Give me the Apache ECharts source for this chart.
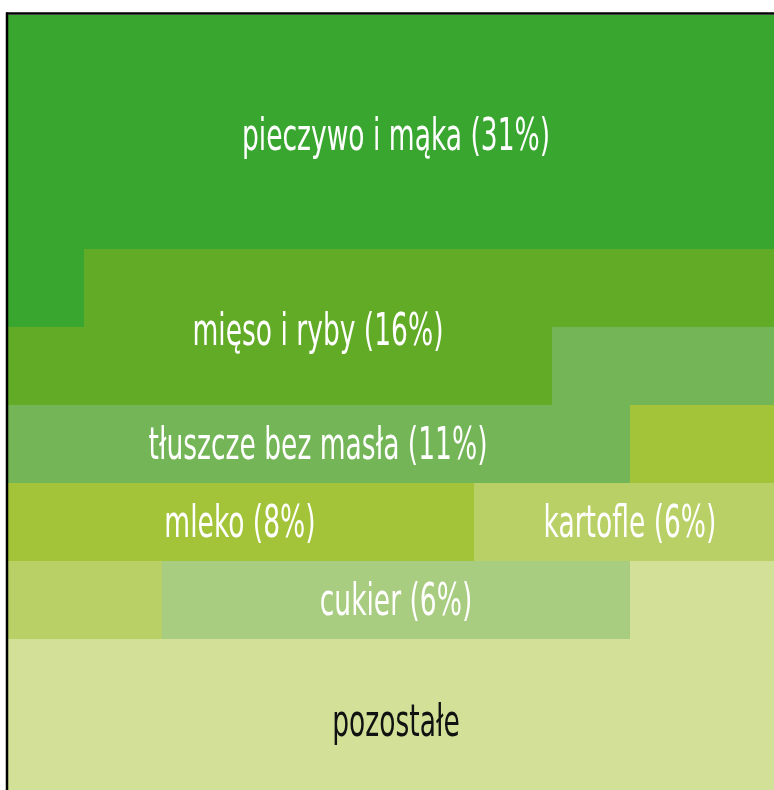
<!DOCTYPE html>
<html>
<head>
<meta charset="utf-8">
<script src="https://cdn.jsdelivr.net/npm/echarts@6/dist/echarts.min.js"></script>
<style>
  html, body { margin: 0; padding: 0; background: #fff; overflow: hidden; }
  #main { width: 800px; height: 810px; }
</style>
</head>
<body>
<div id="main"></div>
<script>
// struktura wydatków - dane (procent, 100 kratek w siatce 10x10)
const names = ['pieczywo i mąka', 'mięso i ryby', 'tłuszcze bez masła', 'mleko', 'kartofle', 'cukier', 'pozostałe'];
const values = [31, 16, 11, 8, 6, 6, 22];
const showPct = [true, true, true, true, true, true, false];
const colors = ['#38a62f', '#62ab27', '#73b557', '#a3c439', '#b8d066', '#a8cc80', '#d2e098'];
const textColors = ['#fff', '#fff', '#fff', '#fff', '#fff', '#fff', '#111'];

// miejsce etykiety w jednostkach siatki (kolumna, wiersz)
const labelAt = [[5, 1.58], [4, 4.08], [4, 5.55], [3, 6.55], [8, 6.55], [5, 7.55], [5, 9.1]];

const COLS = 10;

// kratki: [kolumna, wiersz, grupa]
var cells = [];
var k = 0;
values.forEach((v, g) => {
    for (let i = 0; i < v; i++) {
        cells.push([k % COLS, Math.floor(k / COLS), g]);
        k++;
    }
});

var labelData = names.map((n, g) => [labelAt[g][0], labelAt[g][1], g]);

var chart = echarts.init(document.getElementById('main'));
var option = {
    animation: false,
    grid: { left: 6, top: 15, width: 780, height: 780 },
    xAxis: { type: 'value', min: 0, max: 10, show: false },
    yAxis: { type: 'value', min: 0, max: 10, inverse: true, show: false },
    series: [
        {
            type: 'custom',
            data: cells,
            renderItem: function (params, api) {
                var p0 = api.coord([api.value(0), api.value(1)]);
                var p1 = api.coord([api.value(0) + 1, api.value(1) + 1]);
                var x0 = Math.round(p0[0]), y0 = Math.round(p0[1]);
                // lekko na zakładkę, zeby nie bylo szczelin
                return {
                    type: 'rect',
                    shape: { x: x0, y: y0, width: Math.round(p1[0]) - x0 + 1, height: Math.round(p1[1]) - y0 + 1 },
                    style: { fill: colors[api.value(2)] }
                };
            }
        },
        {
            type: 'custom',
            data: labelData,
            z: 5,
            renderItem: function (params, api) {
                var g = api.value(2);
                var p = api.coord([api.value(0), api.value(1)]);
                var txt = names[g] + (showPct[g] ? ' (' + values[g] + '%)' : '');
                return {
                    type: 'text',
                    x: p[0],
                    y: p[1],
                    scaleX: 0.67,
                    style: {
                        text: txt,
                        fill: textColors[g],
                        font: '44px "Liberation Sans Narrow", "DejaVu Sans Condensed", sans-serif',
                        align: 'center',
                        verticalAlign: 'middle'
                    }
                };
            }
        }
    ],
    graphic: [
        { type: 'line', shape: { x1: 7, y1: 12.5, x2: 7, y2: 820 }, style: { stroke: '#000', lineWidth: 2.5 }, z: 10 },
        { type: 'line', shape: { x1: 6, y1: 13.6, x2: 800, y2: 13.6 }, style: { stroke: '#000', lineWidth: 2.5 }, z: 10 }
    ]
};
option && chart.setOption(option);
</script>
</body>
</html>
